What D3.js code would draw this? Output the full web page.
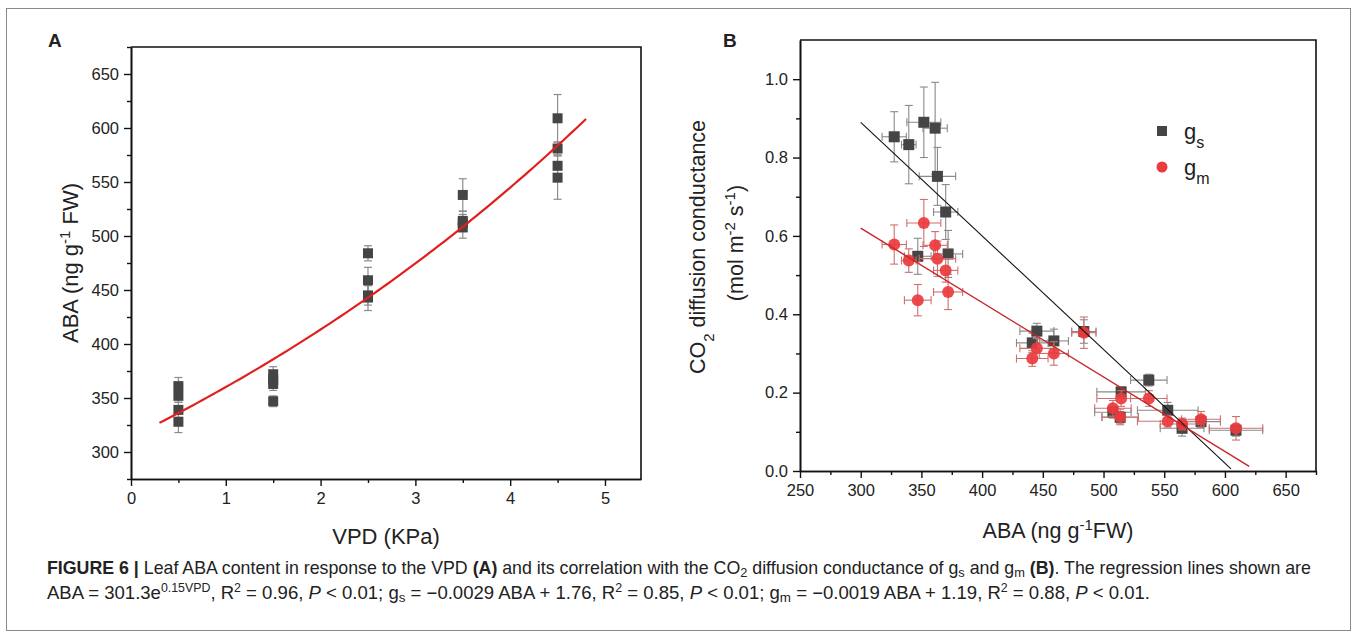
<!DOCTYPE html>
<html><head><meta charset="utf-8">
<script src="https://cdn.jsdelivr.net/npm/d3@7"></script>
<style>
body{margin:0;background:#fff;}
svg text{font-family:"Liberation Sans",Arial,Helvetica,sans-serif;fill:#222;}
</style></head>
<body><svg id="c" width="1357" height="638"></svg>
<script>
// ---------- Panel A data ----------
const vpdLevels = [0.5, 1.5, 2.5, 3.5, 4.5];
const abaA = [[361,352,339,328],[372,367,363,347],[484,459,445,443],[538,514,512,508],[609,581,565,554]];
const abaSDA = [[8,6,7,10],[7,6,6,5],[7,12,9,12],[15,9,8,10],[22,6,10,20]];
const fitA = {a: 313.7, b: 0.138, from: 0.3, to: 4.8}; // drawn regression curve
const xTicksA = [0,1,2,3,4,5];
const yTicksA = [300,350,400,450,500,550,600,650];

// ---------- Panel B data ----------
const abaB    = [327.6,339.6,352,361.3,363.2,370,347,372, 445.1,441.3,459.1,483.8, 514.5,507.7,513.7,537.3, 552.9,564.7,580.3,609.1];
const abaErrB = [10,6,14,10,15,10,11,12, 14,13,12,10, 20,15,15,15, 25,18,16,22];
const gsB     = [0.853,0.833,0.890,0.875,0.752,0.661,0.548,0.554, 0.357,0.327,0.332,0.356, 0.202,0.150,0.137,0.232, 0.155,0.109,0.126,0.104];
const gsErr   = [0.064,0.100,0.090,0.117,0.074,0.070,0.046,0.060, 0.020,0.025,0.030,0.030, 0.012,0.015,0.015,0.015, 0.020,0.020,0.015,0.015];
const gmB     = [0.578,0.537,0.633,0.576,0.542,0.512,0.436,0.457, 0.313,0.287,0.300,0.353, 0.185,0.160,0.138,0.185, 0.127,0.120,0.132,0.109];
const gmErr   = [0.050,0.030,0.060,0.035,0.045,0.030,0.040,0.045, 0.025,0.020,0.030,0.040, 0.020,0.020,0.020,0.020, 0.015,0.015,0.020,0.030];
const fitGs = {slope: -0.0029, intercept: 1.76, from: 300, to: 605};
const fitGm = {slope: -0.0019, intercept: 1.19, from: 300, to: 620};
const xTicksB = [250,300,350,400,450,500,550,600,650];
const yTicksB = [0,0.2,0.4,0.6,0.8,1.0];

const svg = d3.select("#c");
const TICK_FS = 16.5, TITLE_FS = 21.5;

// frame
svg.append("rect").attr("x",6.5).attr("y",8.5).attr("width",1344).attr("height",622)
  .attr("fill","none").attr("stroke","#8a8a8a").attr("stroke-width",1);

function styleAxis(g){
  g.select(".domain").attr("stroke","#111").attr("stroke-width",1.6);
  g.selectAll(".tick line").attr("stroke","#111").attr("stroke-width",1.4);
  g.selectAll(".tick text").attr("font-size",TICK_FS).attr("fill","#222")
    .style("font-family","'Liberation Sans',Arial,sans-serif");
}

// ================= Panel A =================
const A = {l:131, r:641, t:47, b:479};
const xA = d3.scaleLinear().domain([0,5.38]).range([A.l,A.r]);
const yA = d3.scaleLinear().domain([275,675]).range([A.b,A.t]);

const gA = svg.append("g");
gA.append("path").attr("d",`M${A.l},${A.t}H${A.r}V${A.b}`).attr("fill","none").attr("stroke","#111").attr("stroke-width",1.6);
gA.append("g").attr("transform",`translate(0,${A.b})`)
  .call(d3.axisBottom(xA).tickValues(d3.range(0.5,5.4,1)).tickSize(4).tickFormat("").tickSizeOuter(0)).call(styleAxis);
gA.append("g").attr("transform",`translate(${A.l},0)`)
  .call(d3.axisLeft(yA).tickValues(d3.range(275,676,50)).tickSize(4).tickFormat("").tickSizeOuter(0)).call(styleAxis);
gA.append("g").attr("transform",`translate(0,${A.b})`)
  .call(d3.axisBottom(xA).tickValues(xTicksA).tickFormat(d3.format("d")).tickSize(7).tickPadding(6).tickSizeOuter(0)).call(styleAxis);
gA.append("g").attr("transform",`translate(${A.l},0)`)
  .call(d3.axisLeft(yA).tickValues(yTicksA).tickFormat(d3.format("d")).tickSize(7).tickPadding(5).tickSizeOuter(0)).call(styleAxis);

const ptsA = [];
vpdLevels.forEach((v,i)=>abaA[i].forEach((y,j)=>ptsA.push({x:v,y:y,sd:abaSDA[i][j]})));
const ebA = gA.append("g").attr("stroke","#8c8c8c").attr("stroke-width",1.2);
ptsA.forEach(p=>{
  const cx=xA(p.x), y1=yA(p.y+p.sd), y2=yA(p.y-p.sd);
  ebA.append("line").attr("x1",cx).attr("x2",cx).attr("y1",y1).attr("y2",y2);
  ebA.append("line").attr("x1",cx-4).attr("x2",cx+4).attr("y1",y1).attr("y2",y1);
  ebA.append("line").attr("x1",cx-4).attr("x2",cx+4).attr("y1",y2).attr("y2",y2);
});
gA.append("g").selectAll("rect").data(ptsA).join("rect")
  .attr("x",d=>xA(d.x)-5).attr("y",d=>yA(d.y)-5).attr("width",10).attr("height",10)
  .attr("fill","#454545");
const fitPtsA = d3.range(fitA.from, fitA.to+0.001, 0.05).map(v=>[v, fitA.a*Math.exp(fitA.b*v)]);
gA.append("path").datum(fitPtsA).attr("fill","none").attr("stroke","#e01f1f").attr("stroke-width",2.2)
  .attr("d", d3.line().x(d=>xA(d[0])).y(d=>yA(d[1])));

svg.append("text").attr("x",48).attr("y",47).attr("font-size",19).attr("font-weight","bold").attr("fill","#111").text("A");
const tyA = svg.append("text").attr("transform",`translate(78,${(A.t+A.b)/2}) rotate(-90)`).attr("text-anchor","middle").attr("font-size",22);
tyA.append("tspan").text("ABA (ng g");
tyA.append("tspan").attr("baseline-shift","super").attr("font-size",15).text("-1");
tyA.append("tspan").text(" FW)");
svg.append("text").attr("x",(A.l+A.r)/2).attr("y",544).attr("text-anchor","middle").attr("font-size",22).text("VPD (KPa)");

// ================= Panel B =================
const B = {l:800, r:1316, t:40, b:471};
const xB = d3.scaleLinear().domain([250,675]).range([B.l,B.r]);
const yB = d3.scaleLinear().domain([0,1.1]).range([B.b,B.t]);
const gB = svg.append("g");
gB.append("path").attr("d",`M${B.l},${B.t}H${B.r}V${B.b}`).attr("fill","none").attr("stroke","#111").attr("stroke-width",1.6);
gB.append("g").attr("transform",`translate(0,${B.b})`)
  .call(d3.axisBottom(xB).tickValues(d3.range(275,676,50)).tickSize(4).tickFormat("").tickSizeOuter(0)).call(styleAxis);
gB.append("g").attr("transform",`translate(${B.l},0)`)
  .call(d3.axisLeft(yB).tickValues([0.1,0.3,0.5,0.7,0.9]).tickSize(4).tickFormat("").tickSizeOuter(0)).call(styleAxis);
gB.append("g").attr("transform",`translate(0,${B.b})`)
  .call(d3.axisBottom(xB).tickValues(xTicksB).tickFormat(d3.format("d")).tickSize(7).tickPadding(6).tickSizeOuter(0)).call(styleAxis);
gB.append("g").attr("transform",`translate(${B.l},0)`)
  .call(d3.axisLeft(yB).tickValues(yTicksB).tickSize(7).tickPadding(5).tickFormat(d3.format(".1f")).tickSizeOuter(0)).call(styleAxis);

function errBars(g, xs, xe, ys, ye, color){
  const e = g.append("g").attr("stroke",color).attr("stroke-width",1.1);
  xs.forEach((x,i)=>{
    const cx=xB(x), cy=yB(ys[i]);
    const x1=xB(x-xe[i]), x2=xB(x+xe[i]), y1=yB(ys[i]+ye[i]), y2=yB(ys[i]-ye[i]);
    e.append("line").attr("x1",x1).attr("x2",x2).attr("y1",cy).attr("y2",cy);
    e.append("line").attr("x1",x1).attr("x2",x1).attr("y1",cy-4).attr("y2",cy+4);
    e.append("line").attr("x1",x2).attr("x2",x2).attr("y1",cy-4).attr("y2",cy+4);
    e.append("line").attr("x1",cx).attr("x2",cx).attr("y1",y1).attr("y2",y2);
    e.append("line").attr("x1",cx-4).attr("x2",cx+4).attr("y1",y1).attr("y2",y1);
    e.append("line").attr("x1",cx-4).attr("x2",cx+4).attr("y1",y2).attr("y2",y2);
  });
}
errBars(gB, abaB, abaErrB, gsB, gsErr, "#8a8a8a");
gB.append("g").selectAll("rect").data(abaB).join("rect")
  .attr("x",(d)=>xB(d)-5.5).attr("y",(d,i)=>yB(gsB[i])-5.5).attr("width",11).attr("height",11)
  .attr("fill","#454545");
errBars(gB, abaB, abaErrB, gmB, gmErr, "#cc7070");
gB.append("g").selectAll("circle").data(abaB).join("circle")
  .attr("cx",d=>xB(d)).attr("cy",(d,i)=>yB(gmB[i])).attr("r",6)
  .attr("fill","#ea3b3e").attr("fill-opacity",0.92);
gB.append("line").attr("x1",xB(fitGs.from)).attr("y1",yB(fitGs.slope*fitGs.from+fitGs.intercept))
  .attr("x2",xB(fitGs.to)).attr("y2",yB(fitGs.slope*fitGs.to+fitGs.intercept)).attr("stroke","#111").attr("stroke-width",1.1);
gB.append("line").attr("x1",xB(fitGm.from)).attr("y1",yB(fitGm.slope*fitGm.from+fitGm.intercept))
  .attr("x2",xB(fitGm.to)).attr("y2",yB(fitGm.slope*fitGm.to+fitGm.intercept)).attr("stroke","#c8262a").attr("stroke-width",1.4);

// legend
svg.append("rect").attr("x",1157).attr("y",126).attr("width",10).attr("height",10).attr("fill","#454545");
const l1 = svg.append("text").attr("x",1184).attr("y",139).attr("font-size",22);
l1.append("tspan").text("g"); l1.append("tspan").attr("baseline-shift","sub").attr("font-size",16).text("s");
svg.append("circle").attr("cx",1162).attr("cy",167).attr("r",5.5).attr("fill","#ea3b3e");
const l2 = svg.append("text").attr("x",1184).attr("y",175).attr("font-size",22);
l2.append("tspan").text("g"); l2.append("tspan").attr("baseline-shift","sub").attr("font-size",16).text("m");

svg.append("text").attr("x",723).attr("y",47).attr("font-size",19).attr("font-weight","bold").attr("fill","#111").text("B");
const tyB1 = svg.append("text").attr("transform",`translate(705,247) rotate(-90)`).attr("text-anchor","middle").attr("font-size",TITLE_FS);
tyB1.append("tspan").text("CO");
tyB1.append("tspan").attr("baseline-shift","sub").attr("font-size",15).text("2");
tyB1.append("tspan").text(" diffusion conductance");
const tyB2 = svg.append("text").attr("transform",`translate(743,243) rotate(-90)`).attr("text-anchor","middle").attr("font-size",TITLE_FS);
tyB2.append("tspan").text("(mol m");
tyB2.append("tspan").attr("baseline-shift","super").attr("font-size",15).text("-2");
tyB2.append("tspan").text(" s");
tyB2.append("tspan").attr("baseline-shift","super").attr("font-size",15).text("-1");
tyB2.append("tspan").text(")");
const txB = svg.append("text").attr("x",(B.l+B.r)/2).attr("y",538).attr("text-anchor","middle").attr("font-size",TITLE_FS);
txB.append("tspan").text("ABA (ng g");
txB.append("tspan").attr("baseline-shift","super").attr("font-size",15).text("-1");
txB.append("tspan").text("FW)");

// ================= Caption =================
const cap1 = [
  ["FIGURE 6 |","b"],[" Leaf ABA content in response to the VPD ",""],["(A)","b"],
  [" and its correlation with the CO",""],["2","sub"],[" diffusion conductance of g",""],["s","sub"],
  [" and g",""],["m","sub"],[" ",""],["(B)","b"],[". The regression lines shown are",""]
];
const cap2 = [
  ["ABA = 301.3e",""],["0.15VPD","sup"],[", R",""],["2","sup"],[" = 0.96, ",""],["P","i"],[" < 0.01; g",""],["s","sub"],
  [" = \u22120.0029 ABA + 1.76, R",""],["2","sup"],[" = 0.85, ",""],["P","i"],[" < 0.01; g",""],["m","sub"],
  [" = \u22120.0019 ABA + 1.19, R",""],["2","sup"],[" = 0.88, ",""],["P","i"],[" < 0.01.",""]
];
function caption(parts, y, targetW){
  const g = svg.append("g").attr("transform",`translate(47,${y})`);
  const t = g.append("text").attr("x",0).attr("y",0).attr("font-size",18).attr("fill","#231f20");
  parts.forEach(([s,k])=>{
    const ts=t.append("tspan").text(s);
    if(k==="b") ts.attr("font-weight","bold");
    if(k==="i") ts.attr("font-style","italic");
    if(k==="sub") ts.attr("baseline-shift","-3").attr("font-size",13);
    if(k==="sup") ts.attr("baseline-shift","super").attr("font-size",12);
  });
  const w = t.node().getComputedTextLength();
  t.attr("transform",`scale(${targetW/w},1)`);
}
caption(cap1, 574, 1265);
caption(cap2, 599, 1104);
</script></body></html>
